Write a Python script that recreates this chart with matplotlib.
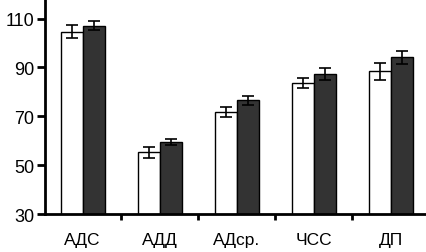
import numpy as np
import matplotlib.pyplot as plt
from matplotlib.ticker import FixedLocator

plt.rcParams['font.family'] = ['Liberation Sans', 'DejaVu Sans']

# data
categories = ['АДС', 'АДД', 'АДср.', 'ЧСС', 'ДП']
white_vals = [104.7, 55.3, 71.8, 83.5, 88.4]
white_err = [2.6, 2.2, 1.9, 2.0, 3.6]
dark_vals = [107.1, 59.4, 76.5, 87.3, 94.1]
dark_err = [1.9, 1.3, 1.9, 2.6, 2.7]

fig = plt.figure(figsize=(4.27, 2.53), dpi=100)
ax = fig.add_axes([0.105, 0.15, 0.895, 0.85])

x = np.arange(len(categories))
w = 0.285
ax.bar(x - w / 2, white_vals, w, color='white', edgecolor='black', linewidth=1.0,
       yerr=white_err, capsize=4, error_kw=dict(elinewidth=1.2, capthick=1.2, ecolor='black'))
ax.bar(x + w / 2, dark_vals, w, color='#333333', edgecolor='black', linewidth=1.0,
       yerr=dark_err, capsize=4, error_kw=dict(elinewidth=1.2, capthick=1.2, ecolor='black'))

ax.set_ylim(30, 118)
ax.set_xlim(-0.49, 4.47)
ax.set_yticks([30, 50, 70, 90, 110])

# tick marks between groups, labels at group centres
ax.xaxis.set_major_locator(FixedLocator([0.5, 1.5, 2.5, 3.5]))
ax.xaxis.set_minor_locator(FixedLocator(x))
ax.set_xticklabels([], minor=False)
ax.set_xticklabels(categories, minor=True)
ax.tick_params(axis='x', which='major', direction='out', length=4, width=2)
ax.tick_params(axis='x', which='minor', length=0, pad=13, labelsize=12.5)
ax.tick_params(axis='y', direction='out', length=6, width=2, labelsize=13, pad=1.5)

for s in ['top', 'right']:
    ax.spines[s].set_visible(False)
for s in ['left', 'bottom']:
    ax.spines[s].set_linewidth(2)

fig.savefig('out.png', dpi=100)
